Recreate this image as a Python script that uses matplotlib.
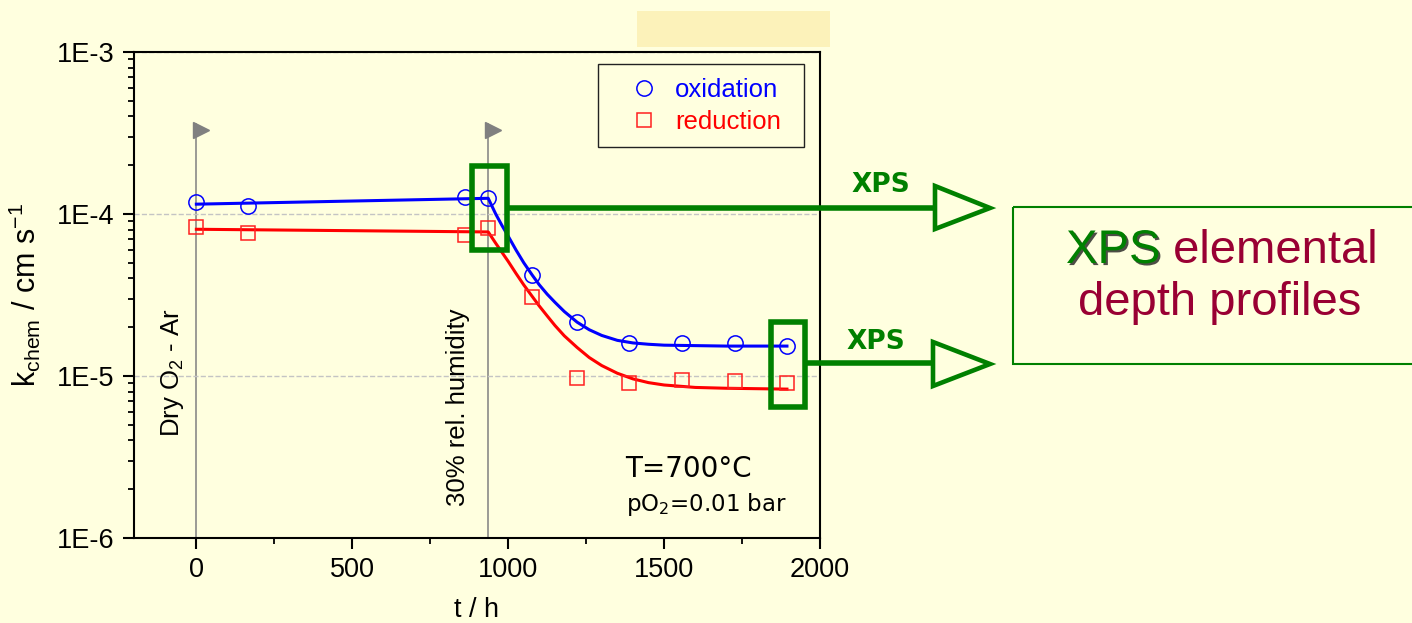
"""k_chem vs time under dry / humid atmosphere, with XPS annotations."""
import matplotlib
matplotlib.use("Agg")
import matplotlib.pyplot as plt
import matplotlib.patheffects as pe
from matplotlib.patches import Rectangle, Polygon
from matplotlib.ticker import FixedLocator, LogLocator, MultipleLocator, FuncFormatter, NullFormatter
import numpy as np

plt.rcParams["font.family"] = ["Liberation Sans", "DejaVu Sans"]
plt.rcParams["mathtext.default"] = "regular"

BG = "#FFFFDF"
GREEN = "#008000"
WINE = "#990033"

# measured points
t_ox = [0, 167, 860, 935, 1077, 1221, 1388, 1558, 1728, 1894]
k_ox = [1.19e-4, 1.12e-4, 1.27e-4, 1.26e-4, 4.20e-5, 2.15e-5, 1.60e-5, 1.60e-5, 1.60e-5, 1.54e-5]
t_red = [0, 167, 860, 935, 1077, 1221, 1388, 1558, 1728, 1894]
k_red = [8.36e-5, 7.60e-5, 7.41e-5, 8.22e-5, 3.09e-5, 9.73e-6, 9.06e-6, 9.44e-6, 9.35e-6, 9.06e-6]

# fitted curves
t_fit = [0, 936, 960, 980, 1000, 1025, 1050, 1077, 1100, 1125, 1150, 1180, 1221,
         1260, 1300, 1350, 1400, 1450, 1500, 1600, 1700, 1894]
k_fit_ox = [1.15e-4, 1.25e-4, 1.00e-4, 8.5e-5, 7.3e-5, 6.0e-5, 5.0e-5, 4.2e-5, 3.65e-5,
            3.2e-5, 2.85e-5, 2.5e-5, 2.15e-5, 1.93e-5, 1.78e-5, 1.66e-5, 1.60e-5,
            1.57e-5, 1.55e-5, 1.54e-5, 1.53e-5, 1.53e-5]
k_fit_red = [8.05e-5, 7.75e-5, 6.6e-5, 5.8e-5, 5.1e-5, 4.3e-5, 3.65e-5, 3.1e-5, 2.7e-5,
             2.35e-5, 2.05e-5, 1.77e-5, 1.50e-5, 1.30e-5, 1.16e-5, 1.04e-5, 9.6e-6,
             9.1e-6, 8.8e-6, 8.5e-6, 8.4e-6, 8.3e-6]

# atmosphere changes
t_switch = [0, 936]
switch_labels = ["Dry O$_2$ - Ar", "30% rel. humidity"]

# XPS sampling boxes (t range, k range)
xps_boxes = [((884, 996), (6.02e-5, 1.99e-4)), ((1842, 1952), (6.46e-6, 2.16e-5))]

fig = plt.figure(figsize=(14.12, 6.23), dpi=100, facecolor=BG)
ax = fig.add_axes([134 / 1412, 85 / 623, 686 / 1412, 486 / 623], facecolor=BG)

ax.set_yscale("log")
ax.set_xlim(-200, 2000)
ax.set_ylim(1e-6, 1e-3)

ax.grid(axis="y", which="major", ls="--", color="#C4C4C4", lw=1)

for t in t_switch:
    ax.plot([t, t], [1e-6, 3.6e-4], color="#808080", lw=1.1, zorder=1)
    ax.plot([t + 14], [3.3e-4], marker=">", ms=12, color="#808080", mec="#808080", zorder=1)

ax.plot(t_fit, k_fit_ox, color="blue", lw=2.2, zorder=3)
ax.plot(t_fit, k_fit_red, color="red", lw=2.2, zorder=3)
ax.plot(t_ox, k_ox, ls="none", marker="o", ms=11, mfc="none", mec="blue", mew=1.1,
        color="blue", label="oxidation", zorder=4)
ax.plot(t_red, k_red, ls="none", marker="s", ms=10, mfc="none", mec="#FF2020", mew=1.1,
        color="red", label="reduction", zorder=4)

for (t0, t1), (k0, k1) in xps_boxes:
    ax.add_patch(Rectangle((t0, k0), t1 - t0, k1 - k0, fill=False, ec=GREEN, lw=4,
                           joinstyle="miter", zorder=5))

ax.text(-75, 1.05e-5, switch_labels[0], rotation=90, ha="center", va="center", fontsize=18.5)
ax.text(840, 6.44e-6, switch_labels[1], rotation=90, ha="center", va="center", fontsize=18.5)

ax.text(1375, 2.38e-6, "T=700°C", fontsize=20, family="DejaVu Sans", va="baseline")
ax.text(1378, 1.47e-6, "pO$_2$=0.01 bar", fontsize=16.5, family="DejaVu Sans", va="baseline")

ax.xaxis.set_major_locator(MultipleLocator(500))
ax.xaxis.set_minor_locator(FixedLocator(np.arange(250, 2000, 500)))
ax.yaxis.set_major_locator(LogLocator(base=10))
ax.yaxis.set_minor_locator(LogLocator(base=10, subs=np.arange(2, 10)))
ax.yaxis.set_minor_formatter(NullFormatter())
ax.yaxis.set_major_formatter(FuncFormatter(lambda v, p: "1E%d" % round(np.log10(v))))
ax.tick_params(which="major", direction="out", length=8, width=1.5, labelsize=19.5, pad=6)
ax.tick_params(which="minor", direction="out", length=4, width=1.3)
ax.tick_params(top=False, right=False, which="both")
for s in ax.spines.values():
    s.set_linewidth(1.5)

ax.set_xlabel("t / h", fontsize=19.5, labelpad=10)
ax.set_ylabel("k$_{chem}$ / cm s$^{-1}$", fontsize=22, labelpad=10)

leg = ax.legend(loc="center left", bbox_to_anchor=(0.7245, 0.889), frameon=False,
                fontsize=18.5, handlelength=1.0, handletextpad=0.71, borderpad=0,
                borderaxespad=0, labelspacing=0.32, labelcolor=["blue", "red"])
leg_frame = Rectangle(((598 - 134) / 686, 1 - (147 - 52) / 486), 206 / 686, 83 / 486,
                      transform=ax.transAxes, fill=False, ec="#222222", lw=1, zorder=6)
ax.add_patch(leg_frame)

# overlay in pixel coordinates for the call-outs outside the plot
ov = fig.add_axes([0, 0, 1, 1], facecolor="none", zorder=10)
ov.set_xlim(0, 1412)
ov.set_ylim(623, 0)
ov.axis("off")

ov.add_patch(Rectangle((637, 11), 193, 36, fc="#FCF2BA", ec="none"))

ov.plot([508, 935], [208, 208], color=GREEN, lw=4, solid_capstyle="butt")
ov.add_patch(Polygon([(935, 186), (935, 229), (990, 208)], closed=True, fill=False,
                     ec=GREEN, lw=3.3, joinstyle="miter"))
ov.plot([807, 933], [363, 363], color=GREEN, lw=4, solid_capstyle="butt")
ov.add_patch(Polygon([(933, 342), (933, 386), (990, 364)], closed=True, fill=False,
                     ec=GREEN, lw=3.3, joinstyle="miter"))
ov.text(881, 185, "XPS", color=GREEN, fontsize=19, family="DejaVu Sans", weight="bold",
        ha="center", va="center")
ov.text(876, 342, "XPS", color=GREEN, fontsize=19, family="DejaVu Sans", weight="bold",
        ha="center", va="center")

ov.add_patch(Rectangle((1013, 207), 420, 157, fill=False, ec=GREEN, lw=1.5, clip_on=False))
t1 = ov.text(1066, 263, "XPS", color=GREEN, fontsize=34, va="baseline", ha="left",
             path_effects=[pe.SimplePatchShadow(offset=(1.5, -1.5), shadow_rgbFace="#111111", alpha=0.75),
                           pe.Normal()])
ov.annotate(" elemental", xy=(1, 0), xycoords=t1, va="bottom", ha="left",
            color=WINE, fontsize=34)
ov.text(1220, 315, "depth profiles", color=WINE, fontsize=34, va="baseline", ha="center")

fig.savefig("out.png", dpi=100, facecolor=BG)
